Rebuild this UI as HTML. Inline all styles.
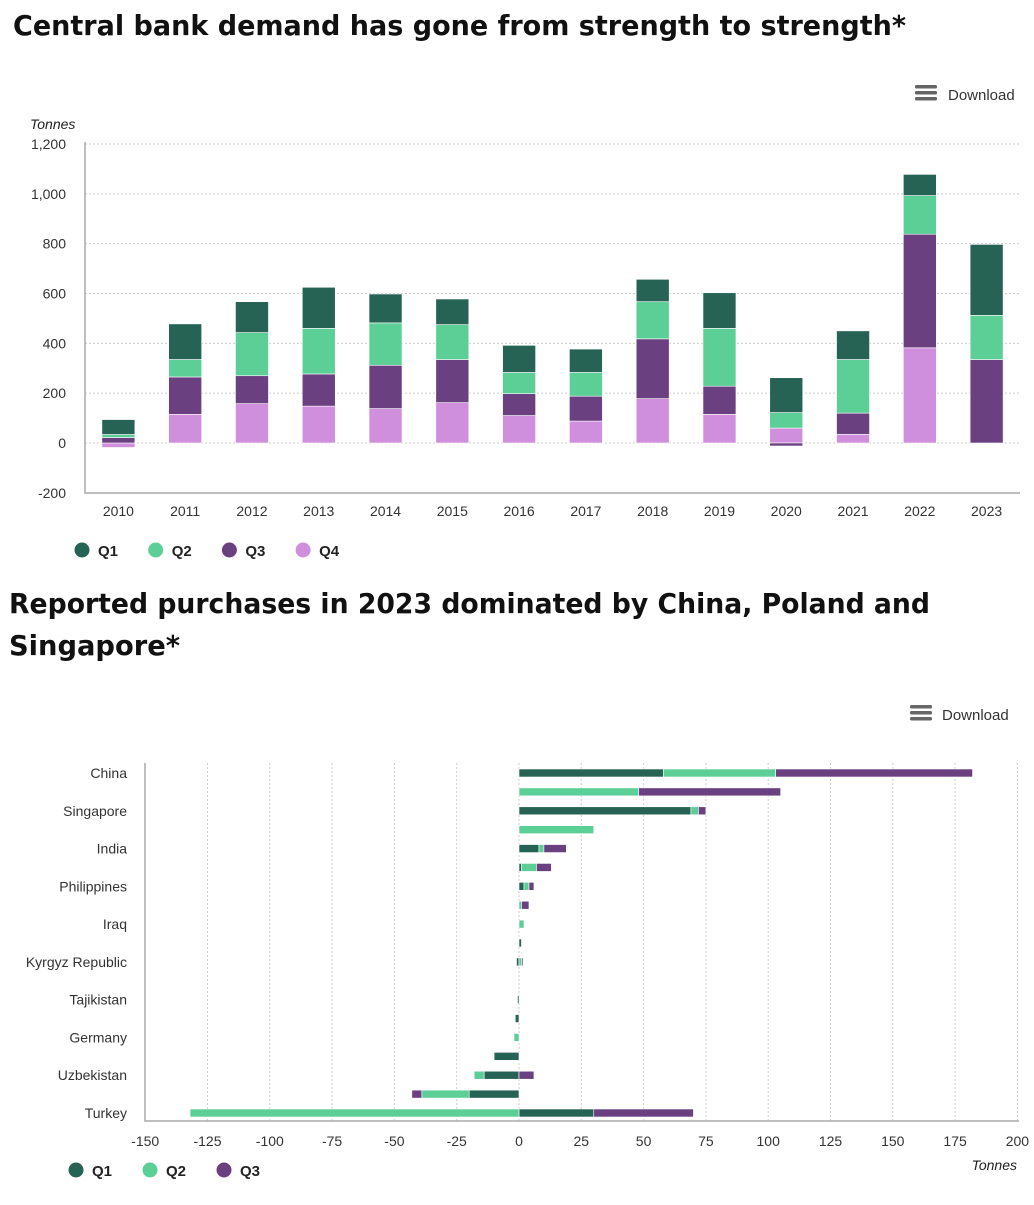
<!DOCTYPE html>
<html><head><meta charset="utf-8">
<style>
body{margin:0;background:#fff;width:1034px;height:1200px;overflow:hidden;font-family:"Liberation Sans",Arial,sans-serif;}
svg text{font-family:"Liberation Sans",Arial,sans-serif;}
.t{font-family:"DejaVu Sans","Liberation Sans",sans-serif;font-weight:bold;fill:#111;}
</style></head><body>
<svg id="svg" width="1034" height="1200" viewBox="0 0 1034 1200" xmlns="http://www.w3.org/2000/svg">
<text class="t" x="13" y="35" font-size="28" textLength="893" lengthAdjust="spacingAndGlyphs">Central bank demand has gone from strength to strength*</text>
<text class="t" x="9" y="613" font-size="28" textLength="921" lengthAdjust="spacingAndGlyphs">Reported purchases in 2023 dominated by China, Poland and</text>
<text class="t" x="9" y="655" font-size="28" textLength="171" lengthAdjust="spacingAndGlyphs">Singapore*</text>

<g>
<rect x="915" y="85" width="22" height="3.5" rx="1.5" fill="#666"/><rect x="915" y="91" width="22" height="3.5" rx="1.5" fill="#666"/><rect x="915" y="97" width="22" height="3.5" rx="1.5" fill="#666"/>
<text x="948" y="100" font-size="15" fill="#333">Download</text></g>
<g>
<rect x="910" y="705" width="22" height="3.5" rx="1.5" fill="#666"/><rect x="910" y="711" width="22" height="3.5" rx="1.5" fill="#666"/><rect x="910" y="717" width="22" height="3.5" rx="1.5" fill="#666"/>
<text x="942" y="720" font-size="15" fill="#333">Download</text></g>

<g id="c1"></g>
<g id="c2"></g>
</svg>
<script>
// ---- Chart 1 data ----
const years=["2010","2011","2012","2013","2014","2015","2016","2017","2018","2019","2020","2021","2022","2023"];
const q1=[60,143,124,165,116,103,109,94,90,143,140,115,85,285];
const q2=[12,70,173,183,170,140,85,95,149,232,62,215,155,177];
const q3=[22,150,112,129,174,173,88,100,240,113,-12,85,456,335];
const q4=[-18,115,158,148,138,162,110,88,178,115,60,35,382,0];
const yTicks=[-200,0,200,400,600,800,1000,1200];
const yTickLabels=["-200","0","200","400","600","800","1,000","1,200"];

// ---- Chart 2 data ----
const countries=["China","","Singapore","","India","","Philippines","","Iraq","","Kyrgyz Republic","","Tajikistan","","Germany","","Uzbekistan","","Turkey"];
const c2q1=[58,0,69,0,8,1,2,0,0,1,-1,0,-0.6,-1.5,0,-10,-14,-20,30];
const c2q2=[45,48,3,30,2,6,2,1,2,0,1,0,0,0,-2,0,-4,-19,-132];
const c2q3=[79,57,3,0,9,6,2,3,0,0,0.6,0,0,0,0,0,6,-4,40];
const xTicks=[-150,-125,-100,-75,-50,-25,0,25,50,75,100,125,150,175,200];

const NS="http://www.w3.org/2000/svg";
const colors=["#276355","#5ccf97","#6a4080","#d08fdc"];
function mk(parent,tag,attrs,txt){const e=document.createElementNS(NS,tag);for(const k in attrs)e.setAttribute(k,attrs[k]);if(txt!==undefined)e.textContent=txt;parent.appendChild(e);return e;}

// Chart 1
(function(){
const g=document.getElementById('c1');
const L=85,R=1020,T=144,B=493;
const y=v=>443-v*(299/1200);
const step=(R-L)/years.length;
const x=i=>L+step*(i+0.5);
yTicks.forEach((t,i)=>{
  if(t!==-200){const l=mk(g,'line',{x1:L,x2:R,y1:y(t),y2:y(t),stroke:'#ccc','stroke-dasharray':'2,2'});
  }
  const tx=mk(g,'text',{x:66,y:y(t)+5,'text-anchor':'end','font-size':14,fill:'#333'},yTickLabels[i]);
  
});
const ax=mk(g,'path',{d:`M${L} ${T-2}V${B}H${R}`,stroke:'#aaa','stroke-width':1.5,fill:'none'});

const yt=mk(g,'text',{x:30,y:129,'font-size':14,'font-style':'italic',fill:'#222'},'Tonnes');

const series=[q1,q2,q3,q4];
years.forEach((yr,i)=>{
  let pos=0,neg=0;
  [3,2,1,0].forEach(s=>{
    const v=series[s][i];if(!v)return;
    let a,b;
    if(v>=0){a=pos;b=pos+v;pos=b;}else{a=neg;b=neg+v;neg=b;}
    const r=mk(g,'rect',{x:x(i)-16.5,width:33,y:Math.min(y(a),y(b)),height:Math.abs(y(a)-y(b)),fill:colors[s],stroke:'#fff','stroke-width':0.6});
    
  });
  const t=mk(g,'text',{x:x(i),y:516,'text-anchor':'middle','font-size':14,fill:'#333'},yr);
  
});
["Q1","Q2","Q3","Q4"].forEach((q,i)=>{
  const lg=mk(g,'g',{});
  
  mk(lg,'circle',{cx:82+i*73.7,cy:550,r:7.5,fill:colors[i]});
  mk(lg,'text',{x:98+i*73.7,y:556,'font-size':15,'font-weight':'bold',fill:'#222'},q);
});
})();

// Chart 2
(function(){
const g=document.getElementById('c2');
const L=145,R=1019,T=763,B=1121;
const x=v=>519+v*(62.3/25);
const rowY=i=>773+i*(340/18);
xTicks.forEach(t=>{
  if(t!==-150){const l=mk(g,'line',{x1:x(t),x2:x(t),y1:T,y2:B,stroke:'#ccc','stroke-dasharray':'2,2'});
  }
  const tx=mk(g,'text',{x:x(t),y:1146,'text-anchor':'middle','font-size':14,fill:'#333'},String(t));
  
});
const ax=mk(g,'path',{d:`M${L} ${T}V${B}H${R}`,stroke:'#aaa','stroke-width':1.5,fill:'none'});

const xt=mk(g,'text',{x:1017,y:1170,'text-anchor':'end','font-size':14,'font-style':'italic',fill:'#222'},'Tonnes');

const series=[c2q1,c2q2,c2q3];
countries.forEach((c,i)=>{
  if(c){const t=mk(g,'text',{x:127,y:rowY(i)+5,'text-anchor':'end','font-size':14,fill:'#333'},c);
  }
  let pos=0,neg=0;
  [0,1,2].forEach(s=>{
    const v=series[s][i];if(!v)return;
    let a,b;
    if(v>=0){a=pos;b=pos+v;pos=b;}else{a=neg;b=neg+v;neg=b;}
    const r=mk(g,'rect',{x:Math.min(x(a),x(b)),width:Math.abs(x(a)-x(b)),y:rowY(i)-4,height:8,fill:colors[s],stroke:'#fff','stroke-width':0.6});
    
  });
});
["Q1","Q2","Q3"].forEach((q,i)=>{
  const lg=mk(g,'g',{});
  
  mk(lg,'circle',{cx:76+i*74,cy:1170,r:7.5,fill:colors[i]});
  mk(lg,'text',{x:92+i*74,y:1176,'font-size':15,'font-weight':'bold',fill:'#222'},q);
});
})();
</script>
</body></html>
